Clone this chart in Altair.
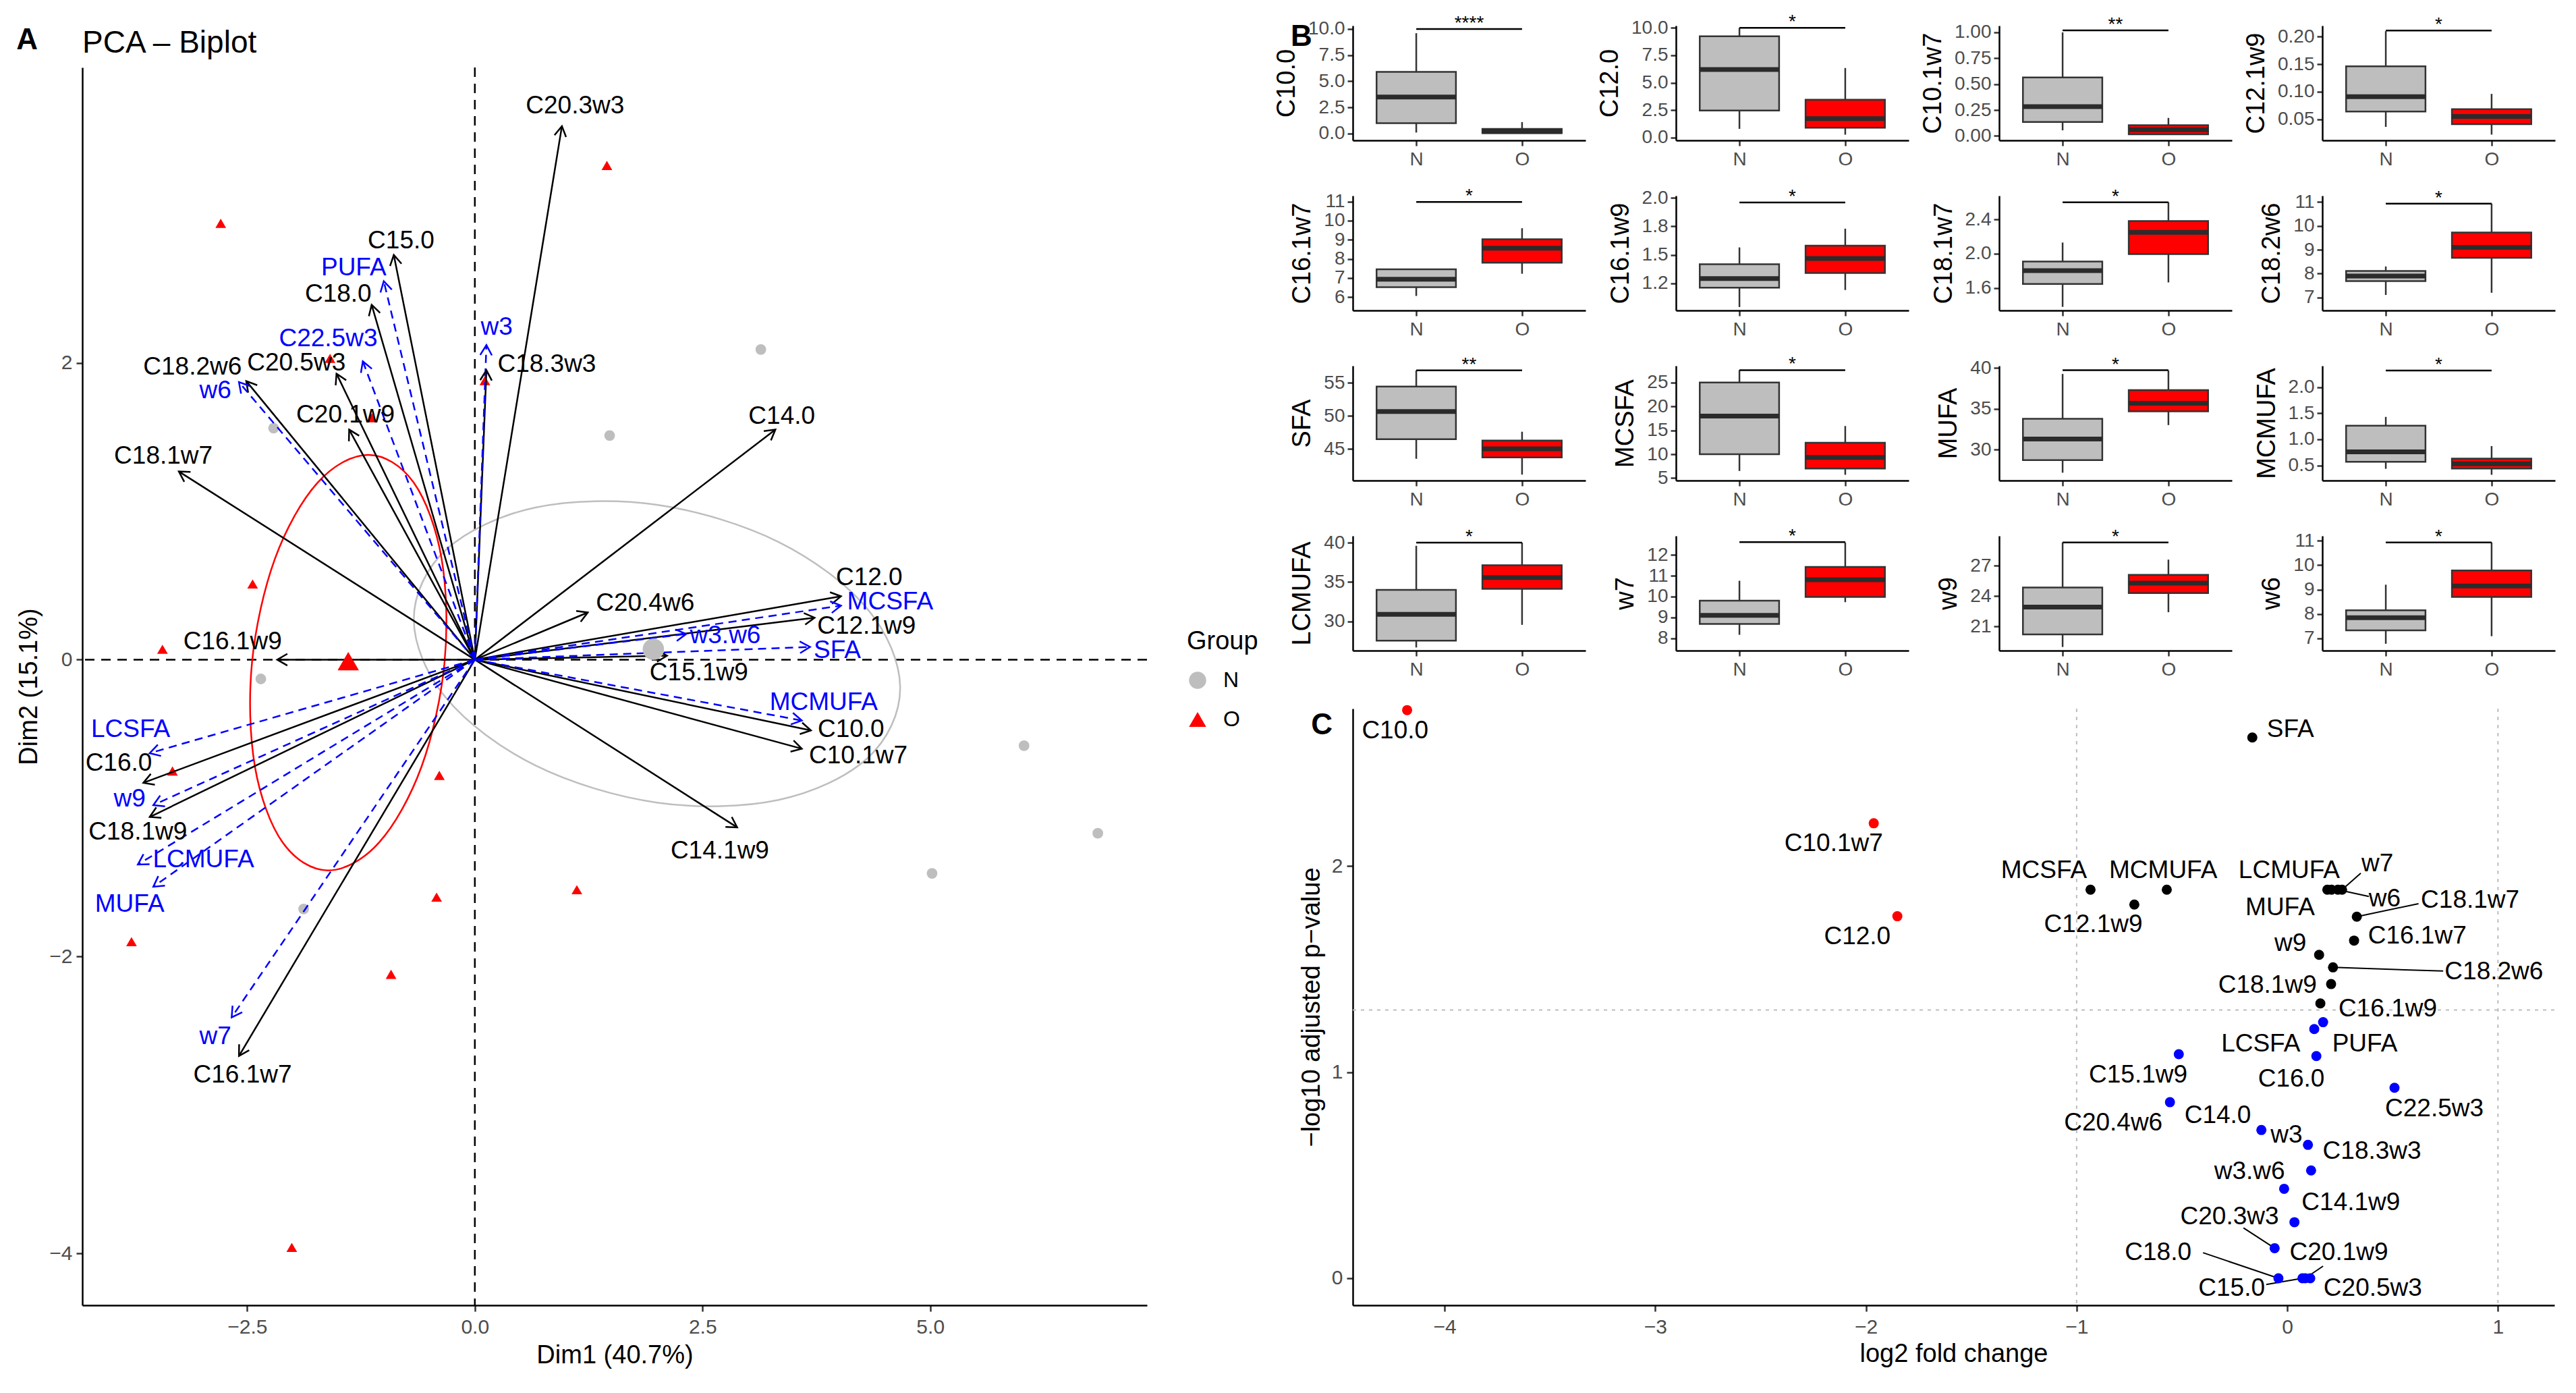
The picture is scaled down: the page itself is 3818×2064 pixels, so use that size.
import altair as alt
import numpy as np
import pandas as pd

FONT = "Liberation Sans"
LBL = "#4D4D4D"
RED = "#FF0000"
BLUE = "#0000FF"
GREY_PT = "#BEBEBE"
DARK = "#333333"

# ===================== Panel A data (PCA biplot) =====================
a_var_names = ["C10.0", "C10.1w7", "C12.0", "C12.1w9", "C14.0", "C14.1w9", "C15.0", "C15.1w9", "C16.0", "C16.1w7",
               "C16.1w9", "C18.0", "C18.1w7", "C18.1w9", "C18.2w6", "C18.3w3", "C20.1w9", "C20.3w3", "C20.4w6", "C20.5w3"]
a_var_x = [3.69, 3.59, 4.02, 3.73, 3.30, 2.88, -0.89, 2.11, -3.64, -2.59,
           -2.17, -1.133, -3.25, -3.57, -2.51, 0.127, -1.38, 0.956, 1.24, -1.519]
a_var_y = [-0.477, -0.60, 0.427, 0.283, 1.55, -1.13, 2.727, 0.027, -0.83, -2.67,
           0.0, 2.391, 1.268, -1.06, 1.877, 1.95, 1.55, 3.595, 0.318, 1.927]
a_var_lx = [4.13, 4.21, 4.33, 4.30, 3.37, 2.69, -0.81, 2.46, -3.91, -2.55,
            -2.66, -1.50, -3.42, -3.70, -3.10, 0.79, -1.42, 1.10, 1.87, -1.96]
a_var_ly = [-0.47, -0.65, 0.55, 0.225, 1.64, -1.29, 2.82, -0.09, -0.70, -2.80,
            0.12, 2.46, 1.37, -1.16, 1.97, 1.99, 1.65, 3.73, 0.38, 2.00]

a_sup_names = ["LCMUFA", "LCSFA", "MCMUFA", "MCSFA", "MUFA", "PUFA", "SFA", "w3", "w3.w6", "w6", "w7", "w9", "C22.5w3"]
a_sup_x = [-3.70, -3.57, 3.59, 4.02, -3.53, -1.00, 3.68, 0.127, 2.32, -2.59, -2.67, -3.53, -1.23]
a_sup_y = [-1.38, -0.63, -0.41, 0.364, -1.53, 2.55, 0.086, 2.12, 0.173, 1.87, -2.41, -0.98, 2.01]
a_sup_lx = [-2.98, -3.78, 3.83, 4.56, -3.79, -1.33, 3.98, 0.24, 2.75, -2.85, -2.85, -3.79, -1.61]
a_sup_ly = [-1.35, -0.47, -0.29, 0.39, -1.65, 2.64, 0.06, 2.24, 0.16, 1.81, -2.54, -0.94, 2.16]

a_obs_group = ["O"] * 14 + ["N"] * 8
a_obs_x = [-2.79, -1.59, -1.13, 0.11, -2.44, -3.43, 1.45, -3.32, -0.39, -0.42, 1.12, -3.77, -0.92, -2.01,
           3.14, 1.48, 6.03, 6.84, 5.02, -2.35, -1.88, -2.21]
a_obs_y = [2.94, 2.03, 1.63, 1.88, 0.51, 0.07, 3.33, -0.75, -0.78, -1.60, -1.55, -1.90, -2.12, -3.96,
           2.09, 1.51, -0.58, -1.17, -1.44, -0.13, -1.68, 1.56]
a_mean_group = ["N", "O"]
a_mean_x = [1.96, -1.39]
a_mean_y = [0.07, -0.01]

# concentration ellipses, points
a_ellO_x = [-0.333, -0.365, -0.670, -1.17, -1.728, -2.195, -2.447, -2.415, -2.110, -1.61, -1.052, -0.585]
a_ellO_y = [-0.02, 0.68, 1.192, 1.38, 1.192, 0.68, -0.02, -0.72, -1.232, -1.42, -1.232, -0.72]
a_ellN_x = [4.67, 4.312, 3.335, 2.0, 0.665, -0.312, -0.67, -0.312, 0.665, 2.0, 3.335, 4.312]
a_ellN_y = [-0.192, 0.341, 0.793, 1.043, 1.025, 0.743, 0.272, -0.261, -0.713, -0.963, -0.945, -0.663]

a_xticks = [-2.5, 0.0, 2.5, 5.0]
a_yticks = [-4, -2, 0, 2]

# ===================== Panel B data (boxplots) =====================
b_vars = ["C10.0", "C12.0", "C10.1w7", "C12.1w9",
          "C16.1w7", "C16.1w9", "C18.1w7", "C18.2w6",
          "SFA", "MCSFA", "MUFA", "MCMUFA",
          "LCMUFA", "w7", "w9", "w6"]
b_groups = ["N", "O"]
# [lower whisker, Q1, median, Q3, upper whisker]
b_N = [[0.1, 1.0, 3.5, 5.9, 9.6], [0.8, 2.47, 6.21, 9.23, 10.0], [0.054, 0.135, 0.283, 0.565, 1.0], [0.036, 0.064, 0.091, 0.146, 0.21],
       [6.06, 6.52, 6.93, 7.45, 7.45], [1.04, 1.21, 1.29, 1.417, 1.565], [1.38, 1.647, 1.803, 1.908, 2.13], [7.11, 7.69, 7.9, 8.11, 8.3],
       [43.5, 46.47, 50.67, 54.45, 56.9], [6.5, 10.0, 18.0, 25.0, 27.6], [27.16, 28.7, 31.3, 33.78, 39.27], [0.435, 0.57, 0.76, 1.26, 1.43],
       [26.7, 27.57, 30.9, 34.0, 39.6], [8.16, 8.68, 9.1, 9.8, 10.76], [18.96, 20.2, 22.9, 24.85, 29.3], [6.78, 7.33, 7.85, 8.15, 9.2]]
b_O = [[0.0, 0.05, 0.2, 0.45, 1.1], [0.27, 0.9, 1.74, 3.45, 6.34], [0.01, 0.015, 0.06, 0.104, 0.174], [0.022, 0.041, 0.0549, 0.0682, 0.096],
       [7.22, 7.8, 8.56, 9.02, 9.6], [1.19, 1.34, 1.467, 1.58, 1.73], [1.665, 1.995, 2.25, 2.38, 2.6], [7.2, 8.66, 9.1, 9.72, 10.93],
       [41.1, 43.7, 45.0, 46.26, 47.6], [5.7, 7.0, 9.35, 12.4, 15.9], [33.0, 34.68, 35.68, 37.3, 39.7], [0.32, 0.44, 0.53, 0.63, 0.87],
       [29.57, 34.14, 35.57, 37.14, 40.0], [9.73, 9.98, 10.81, 11.43, 12.6], [22.4, 24.3, 25.27, 26.1, 27.6], [7.09, 8.7, 9.15, 9.78, 10.93]]
b_bracket = [10.0, 10.0, 1.02, 0.211, 10.97, 1.96, 2.60, 10.93, 56.9, 27.6, 39.73, 2.32, 40.0, 12.62, 29.3, 10.93]
b_stars = ["****", "*", "**", "*", "*", "*", "*", "*", "**", "*", "*", "*", "*", "*", "*", "*"]
b_dom = [[-0.65, 10.32], [-0.25, 10.2], [-0.043, 1.065], [0.0115, 0.22],
         [5.3, 11.3], [1.01, 2.02], [1.338, 2.676], [6.46, 11.26],
         [40.2, 57.6], [4.5, 28.5], [26.2, 40.27], [0.21, 2.41],
         [26.3, 40.86], [7.4, 12.92], [18.6, 29.95], [6.5, 11.2]]
b_ticks = [[0, 2.5, 5, 7.5, 10], [0, 2.5, 5, 7.5, 10], [0, 0.25, 0.5, 0.75, 1.0], [0.05, 0.1, 0.15, 0.2],
           [6, 7, 8, 9, 10, 11], [1.25, 1.5, 1.75, 2.0], [1.6, 2.0, 2.4], [7, 8, 9, 10, 11],
           [45, 50, 55], [5, 10, 15, 20, 25], [30, 35, 40], [0.5, 1.0, 1.5, 2.0],
           [30, 35, 40], [8, 9, 10, 11, 12], [21, 24, 27], [7, 8, 9, 10, 11]]
b_ticklabels = [["0.0", "2.5", "5.0", "7.5", "10.0"], ["0.0", "2.5", "5.0", "7.5", "10.0"],
                ["0.00", "0.25", "0.50", "0.75", "1.00"], ["0.05", "0.10", "0.15", "0.20"],
                ["6", "7", "8", "9", "10", "11"], ["1.2", "1.5", "1.8", "2.0"], ["1.6", "2.0", "2.4"], ["7", "8", "9", "10", "11"],
                ["45", "50", "55"], ["5", "10", "15", "20", "25"], ["30", "35", "40"], ["0.5", "1.0", "1.5", "2.0"],
                ["30", "35", "40"], ["8", "9", "10", "11", "12"], ["21", "24", "27"], ["7", "8", "9", "10", "11"]]

# ===================== Panel C data (volcano) =====================
c_names = ["C10.0", "C10.1w7", "C12.0",
           "SFA", "MCSFA", "MCMUFA", "C12.1w9", "LCMUFA", "MUFA", "w6", "w7", "C18.1w7", "C16.1w7", "w9", "C18.2w6", "C18.1w9", "C16.1w9",
           "PUFA", "LCSFA", "C16.0", "C15.1w9", "C22.5w3", "C20.4w6", "C14.0", "w3", "C18.3w3", "w3.w6", "C14.1w9", "C20.3w3",
           "C18.0", "C15.0", "C20.1w9", "C20.5w3"]
c_fc = [-4.178, -1.963, -1.851,
        -0.166, -0.934, -0.572, -0.726, 0.19, 0.21, 0.24, 0.26, 0.33, 0.317, 0.151, 0.217, 0.208, 0.157,
        0.17, 0.128, 0.138, -0.515, 0.509, -0.557, -0.123, 0.098, 0.113, -0.015, 0.034, -0.06,
        -0.042, 0.072, 0.085, 0.109]
c_p = [2.756, 2.207, 1.756,
       2.623, 1.885, 1.885, 1.813, 1.885, 1.885, 1.885, 1.885, 1.754, 1.638, 1.569, 1.508, 1.427, 1.333,
       1.242, 1.209, 1.078, 1.087, 0.924, 0.854, 0.719, 0.647, 0.523, 0.434, 0.272, 0.146,
       0.0, 0.0, 0.0, 0.0]
c_grp = ["up"] * 3 + ["sig"] * 14 + ["ns"] * 16
c_lx = [-4.235, -2.153, -2.041,
        0.015, -1.155, -0.589, -0.921, 0.009, -0.034, 0.462, 0.428, 0.868, 0.617, 0.015, 0.981, -0.094, 0.477,
        0.368, -0.126, 0.019, -0.708, 0.698, -0.826, -0.33, -0.004, 0.402, -0.179, 0.302, -0.274,
        -0.613, -0.264, 0.245, 0.406]
c_ly = [2.654, 2.109, 1.656,
        2.662, 1.976, 1.976, 1.715, 1.976, 1.797, 1.839, 2.009, 1.834, 1.66, 1.623, 1.486, 1.42, 1.307,
        1.137, 1.137, 0.967, 0.985, 0.821, 0.752, 0.789, 0.695, 0.614, 0.516, 0.368, 0.298,
        0.124, -0.05, 0.124, -0.05]
# leader segments: from point to label
c_seg_x1 = [0.26, 0.24, 0.33, 0.217, -0.06, -0.042, 0.072, 0.085]
c_seg_y1 = [1.885, 1.885, 1.754, 1.508, 0.146, 0.0, 0.0, 0.0]
c_seg_x2 = [0.349, 0.387, 0.623, 0.74, -0.208, -0.40, -0.10, 0.17]
c_seg_y2 = [1.965, 1.852, 1.817, 1.49, 0.244, 0.124, -0.03, 0.059]
c_fc_thresholds = [-1, 1]
c_p_threshold = [1.30103]

# ===================== geometry =====================
A_W, A_H = 1578, 1834
A_XDOM = [-4.31, 7.38]
A_YDOM = [-4.35, 3.99]
B_W, B_H = 345, 170
C_W, C_H = 1781, 884
C_XDOM = [-4.436, 1.268]
C_YDOM = [-0.131, 2.763]

kx = A_W / (A_XDOM[1] - A_XDOM[0])
ky = A_H / (A_YDOM[1] - A_YDOM[0])

# ===================== Panel A chart =====================
xsA = alt.Scale(domain=A_XDOM, nice=False, zero=False)
ysA = alt.Scale(domain=A_YDOM, nice=False, zero=False)
xaxA = alt.Axis(title="Dim1 (40.7%)", values=a_xticks, format=".1f", labelFontSize=30, titleFontSize=38,
                tickSize=9, labelPadding=8, titlePadding=8)
yaxA = alt.Axis(title="Dim2 (15.1%)", values=a_yticks, format="d", labelFontSize=30, titleFontSize=38,
                tickSize=9, labelPadding=6, titlePadding=10)


def AX(f):
    return alt.X(f, scale=xsA, axis=xaxA)


def AY(f):
    return alt.Y(f, scale=ysA, axis=yaxA)


def arrow_df(names, xs, ys, lxs, lys):
    df = pd.DataFrame({"name": names, "x": xs, "y": ys, "lx": lxs, "ly": lys})
    df["x0"] = 0.0
    df["y0"] = 0.0
    df["ang"] = np.degrees(np.arctan2(df["x"] * kx, df["y"] * ky)) % 360
    return df


var_df = arrow_df(a_var_names, a_var_x, a_var_y, a_var_lx, a_var_ly)
sup_df = arrow_df(a_sup_names, a_sup_x, a_sup_y, a_sup_lx, a_sup_ly)
obs_df = pd.DataFrame({"Group": a_obs_group, "x": a_obs_x, "y": a_obs_y})
mean_df = pd.DataFrame({"Group": a_mean_group, "x": a_mean_x, "y": a_mean_y})
ellO_df = pd.DataFrame({"x": a_ellO_x, "y": a_ellO_y, "i": range(len(a_ellO_x))})
ellN_df = pd.DataFrame({"x": a_ellN_x, "y": a_ellN_y, "i": range(len(a_ellN_x))})
zero_df = pd.DataFrame({"z": [0.0]})

HEAD = "M-0.5,0.866L0,0L0.5,0.866"

vzero = alt.Chart(zero_df).mark_rule(color="black", strokeWidth=2.5, strokeDash=[14, 10]).encode(x=AX("z:Q"))
hzero = alt.Chart(zero_df).mark_rule(color="black", strokeWidth=2.5, strokeDash=[14, 10]).encode(y=AY("z:Q"))
ellO = alt.Chart(ellO_df).mark_line(color=RED, strokeWidth=2.5, interpolate="cardinal-closed").encode(
    x=AX("x:Q"), y=AY("y:Q"), order="i:Q")
ellN = alt.Chart(ellN_df).mark_line(color="#BEBEBE", strokeWidth=2.5, interpolate="cardinal-closed").encode(
    x=AX("x:Q"), y=AY("y:Q"), order="i:Q")

col_scale = alt.Scale(domain=["N", "O"], range=[GREY_PT, RED])
shp_scale = alt.Scale(domain=["N", "O"], range=["circle", "triangle-up"])
leg = alt.Legend(title="Group", orient="none", legendX=1637, legendY=832, titleFontSize=38, labelFontSize=32,
                 titleFont=FONT, labelFont=FONT, titleColor="black", labelColor="black", titleFontWeight="normal",
                 symbolSize=650, rowPadding=26, titlePadding=22, labelOffset=22, symbolStrokeWidth=0)
pts = alt.Chart(obs_df).mark_point(filled=True, size=250, opacity=1).encode(
    x=AX("x:Q"), y=AY("y:Q"),
    color=alt.Color("Group:N", scale=col_scale, legend=leg),
    shape=alt.Shape("Group:N", scale=shp_scale, legend=leg))
means = alt.Chart(mean_df).mark_point(filled=True, size=1000, opacity=1).encode(
    x=AX("x:Q"), y=AY("y:Q"),
    color=alt.Color("Group:N", scale=col_scale, legend=None),
    shape=alt.Shape("Group:N", scale=shp_scale, legend=None))

arr_var = alt.Chart(var_df).mark_rule(color="black", strokeWidth=2.5).encode(
    x=AX("x0:Q"), y=AY("y0:Q"), x2="x:Q", y2="y:Q")
arr_sup = alt.Chart(sup_df).mark_rule(color=BLUE, strokeWidth=2.5, strokeDash=[12, 8]).encode(
    x=AX("x0:Q"), y=AY("y0:Q"), x2="x:Q", y2="y:Q")
head_var = alt.Chart(var_df).mark_point(shape=HEAD, filled=False, color="black", strokeWidth=2.5, size=1200, opacity=1).encode(
    x=AX("x:Q"), y=AY("y:Q"), angle=alt.Angle("ang:Q", scale=None))
head_sup = alt.Chart(sup_df).mark_point(shape=HEAD, filled=False, color=BLUE, strokeWidth=2.5, size=1200, opacity=1).encode(
    x=AX("x:Q"), y=AY("y:Q"), angle=alt.Angle("ang:Q", scale=None))
lab_var = alt.Chart(var_df).mark_text(font=FONT, fontSize=37, color="black", align="center", baseline="middle").encode(
    x=AX("lx:Q"), y=AY("ly:Q"), text="name:N")
lab_sup = alt.Chart(sup_df).mark_text(font=FONT, fontSize=37, color=BLUE, align="center", baseline="middle").encode(
    x=AX("lx:Q"), y=AY("ly:Q"), text="name:N")

panelA = alt.layer(vzero, hzero, ellN, ellO, pts, arr_var, arr_sup, head_var, head_sup, means, lab_var, lab_sup).properties(
    width=A_W, height=A_H,
    title=alt.TitleParams(text="PCA – Biplot", anchor="start", frame="group", offset=9, dy=-2, fontSize=46,
                          fontWeight="normal", font=FONT, color="black"))

# thin invisible strip above panel A: sets the vertical offset of panel A relative to panel B
spacer_df = pd.DataFrame({"a": [0.0], "b": [1.0]})
spacerA = alt.Chart(spacer_df).mark_rect(opacity=0).encode(
    x=alt.X("a:Q", axis=None, scale=alt.Scale(domain=[0, 1])), x2="b:Q",
    y=alt.Y("a:Q", axis=None, scale=alt.Scale(domain=[0, 1])), y2="b:Q").properties(width=A_W, height=1)

groupA = alt.vconcat(spacerA, panelA, spacing=0).properties(
    title=alt.TitleParams(text="A", anchor="start", frame="bounds", offset=0, dy=44, fontSize=44,
                          fontWeight="bold", font=FONT, color="black")
).resolve_scale(color="independent", shape="independent")


# ===================== Panel B charts =====================
def label_expr(vals, labs):
    expr = "''"
    for v, l in reversed(list(zip(vals, labs))):
        expr = f"datum.value == {v} ? '{l}' : {expr}"
    return expr


b_pos = [1, 2]
BOX_HALF = 0.375
xsB = alt.Scale(domain=[0.4, 2.6], nice=False, zero=False)
xaxB = alt.Axis(title=None, values=b_pos, labelExpr=label_expr(b_pos, b_groups), labelFontSize=28,
                tickSize=8, labelPadding=6)


def box_cell(i):
    n, o = b_N[i], b_O[i]
    df = pd.DataFrame({"grp": b_groups, "pos": b_pos,
                       "lw": [n[0], o[0]], "q1": [n[1], o[1]], "med": [n[2], o[2]],
                       "q3": [n[3], o[3]], "uw": [n[4], o[4]]})
    df["lo"] = df["pos"] - BOX_HALF
    df["hi"] = df["pos"] + BOX_HALF
    br = pd.DataFrame({"xa": [b_pos[0]], "xb": [b_pos[1]], "xm": [(b_pos[0] + b_pos[1]) / 2],
                       "yb": [b_bracket[i]], "lab": [b_stars[i]]})
    ys = alt.Scale(domain=b_dom[i], nice=False, zero=False)
    yax = alt.Axis(title=b_vars[i], values=b_ticks[i], labelExpr=label_expr(b_ticks[i], b_ticklabels[i]),
                   labelFontSize=28, titleFontSize=38, tickSize=8, labelPadding=4, titlePadding=12)

    def BX(f):
        return alt.X(f, scale=xsB, axis=xaxB)

    def BY(f):
        return alt.Y(f, scale=ys, axis=yax)

    base = alt.Chart(df)
    w_lo = base.mark_rule(color=DARK, strokeWidth=2.5).encode(x=BX("pos:Q"), y=BY("lw:Q"), y2="q1:Q")
    w_hi = base.mark_rule(color=DARK, strokeWidth=2.5).encode(x=BX("pos:Q"), y=BY("q3:Q"), y2="uw:Q")
    box = base.mark_rect(stroke=DARK, strokeWidth=2.5).encode(
        x=BX("lo:Q"), x2="hi:Q", y=BY("q1:Q"), y2="q3:Q",
        fill=alt.Fill("grp:N", scale=alt.Scale(domain=b_groups, range=[GREY_PT, RED]), legend=None))
    med = base.mark_rule(color="#2B2B2B", strokeWidth=7).encode(x=BX("lo:Q"), x2="hi:Q", y=BY("med:Q"))
    brk = alt.Chart(br).mark_rule(color="black", strokeWidth=2.5).encode(x=BX("xa:Q"), x2="xb:Q", y=BY("yb:Q"))
    stars = alt.Chart(br).mark_text(font=FONT, fontSize=28, color="black", align="center", baseline="alphabetic").encode(
        x=BX("xm:Q"), y=BY("yb:Q"), text="lab:N")
    return alt.layer(w_lo, w_hi, box, med, brk, stars).properties(width=B_W, height=B_H)


cells = [box_cell(i) for i in range(len(b_vars))]
gridB = alt.concat(*cells, columns=4, spacing={"row": 82, "column": 134}, bounds="flush").properties(
    title=alt.TitleParams(text="B", anchor="start", frame="bounds", offset=0, dx=25, dy=58, fontSize=44,
                          fontWeight="bold", font=FONT, color="black"))

# ===================== Panel C chart =====================
c_df = pd.DataFrame({"name": c_names, "fc": c_fc, "p": c_p, "grp": c_grp, "lx": c_lx, "ly": c_ly})
seg_df = pd.DataFrame({"x1": c_seg_x1, "y1": c_seg_y1, "x2": c_seg_x2, "y2": c_seg_y2})
xsC = alt.Scale(domain=C_XDOM, nice=False, zero=False)
ysC = alt.Scale(domain=C_YDOM, nice=False, zero=False)
xaxC = alt.Axis(title="log2 fold change", values=[-4, -3, -2, -1, 0, 1], format="d", labelFontSize=30,
                titleFontSize=38, tickSize=9, labelPadding=8, titlePadding=6)
yaxC = alt.Axis(title="−log10 adjusted p−value", values=[0, 1, 2], format="d", labelFontSize=30,
                titleFontSize=38, tickSize=9, labelPadding=6, titlePadding=10)


def CX(f):
    return alt.X(f, scale=xsC, axis=xaxC)


def CY(f):
    return alt.Y(f, scale=ysC, axis=yaxC)


vl = alt.Chart(pd.DataFrame({"v": c_fc_thresholds})).mark_rule(color="#BDBDBD", strokeWidth=2, strokeDash=[5, 7]).encode(x=CX("v:Q"))
hl = alt.Chart(pd.DataFrame({"h": c_p_threshold})).mark_rule(color="#BDBDBD", strokeWidth=2, strokeDash=[5, 7]).encode(y=CY("h:Q"))
segs = alt.Chart(seg_df).mark_rule(color="black", strokeWidth=2).encode(x=CX("x1:Q"), y=CY("y1:Q"), x2="x2:Q", y2="y2:Q")
c_layers = [vl, hl, segs]
for g, col in [("ns", BLUE), ("sig", "black"), ("up", RED)]:
    c_layers.append(alt.Chart(c_df).transform_filter(alt.datum.grp == g).mark_circle(size=225, color=col, opacity=1).encode(
        x=CX("fc:Q"), y=CY("p:Q")))
c_layers.append(alt.Chart(c_df).mark_text(font=FONT, fontSize=37, color="black", align="center", baseline="middle").encode(
    x=CX("lx:Q"), y=CY("ly:Q"), text="name:N"))
panelC = alt.layer(*c_layers).properties(
    width=C_W, height=C_H,
    title=alt.TitleParams(text="C", anchor="start", frame="bounds", offset=0, dx=18, dy=52, fontSize=44,
                          fontWeight="bold", font=FONT, color="black"))

groupR = alt.vconcat(gridB, panelC, spacing=37)

chart = alt.hconcat(groupA, groupR, spacing=22).resolve_scale(
    color="independent", shape="independent"
).properties(
    padding={"left": 16, "top": 10, "right": 5, "bottom": 5}
).configure_view(
    stroke="transparent"
).configure_axis(
    grid=False, domainColor="black", domainWidth=2.5, tickColor=DARK, tickWidth=2.5,
    labelColor=LBL, labelFont=FONT, titleFont=FONT, titleColor="black", titleFontWeight="normal"
).configure_title(font=FONT)

chart.save("out.html", embed_options={"renderer": "svg", "actions": False})
